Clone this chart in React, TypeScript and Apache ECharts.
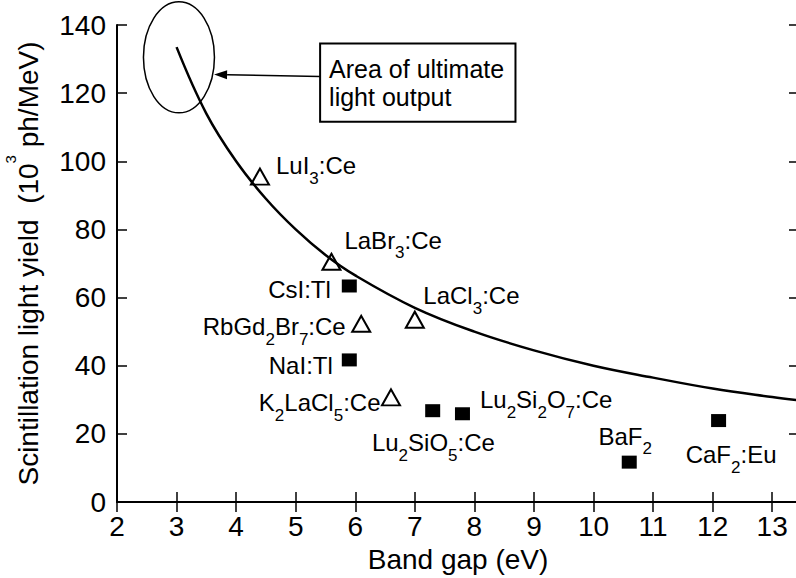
import React, { useEffect, useRef } from "react";
import * as echarts from "echarts";

// ---- data ----
const curveX = [3, 3.5, 4, 4.5, 5, 5.5, 6, 7, 8, 9, 10, 11, 12, 13, 13.45];
const curveY = [133.5, 114, 100, 89, 80, 72.5, 66.5, 57, 50, 44.5, 40, 36.5, 33.3, 30.8, 29.8];

const triNames = ["LuI_3:Ce", "LaBr_3:Ce", "RbGd_2Br_7:Ce", "K_2LaCl_5:Ce", "LaCl_3:Ce"];
const triX = [4.4, 5.6, 6.1, 6.6, 7.0];
const triY = [95.5, 70.5, 52.3, 30.7, 53.5];

const sqNames = ["CsI:Tl", "NaI:Tl", "Lu_2SiO_5:Ce", "Lu_2Si_2O_7:Ce", "BaF_2", "CaF_2:Eu"];
const sqX = [5.9, 5.9, 7.3, 7.8, 10.6, 12.1];
const sqY = [63.4, 41.7, 26.8, 25.9, 11.7, 23.9];

const xTitle = "Band gap (eV)";
const yTitleA = "Scintillation light yield  (10";
const yTitleSup = "3";
const yTitleB = " ph/MeV)";
const noteText = "Area of ultimate\nlight output";

// ---- layout (not data) ----
const triLabelLayout: [string, number, number][] = [
  ["left", 16, -11],
  ["left", 13, -21.5],
  ["right", -15.5, 3],
  ["right", -10.5, 5.5],
  ["left", 8.5, -24],
];
const sqLabelLayout: [string, number, number][] = [
  ["right", -18.5, 3.5],
  ["right", -16.5, 5.5],
  ["center", 0.7, 32],
  ["left", 17.5, -14],
  ["center", -4, -26],
  ["center", 12.5, 34],
];

const FONT = "'Liberation Sans', Arial, Helvetica, sans-serif";

const toRich = (s: string) => {
  const parts: string[] = [];
  let buf = "";
  for (let i = 0; i < s.length; i++) {
    if (s[i] === "_" && i + 1 < s.length) {
      if (buf) parts.push(`{m|${buf}}`);
      buf = "";
      parts.push(`{s|${s[i + 1]}}`);
      i++;
    } else buf += s[i];
  }
  if (buf) parts.push(`{m|${buf}}`);
  return parts.join("");
};

const labelRich = {
  m: { fontSize: 24, lineHeight: 24, verticalAlign: "top", color: "#000", fontFamily: FONT },
  s: { fontSize: 17, lineHeight: 17, verticalAlign: "top", padding: [16, 0, 0, 0], color: "#000", fontFamily: FONT },
};

export default function App() {
  const ref = useRef<HTMLDivElement>(null);
  useEffect(() => {
    document.body.style.margin = "0";
    if (!ref.current) return;
    const chart = echarts.init(ref.current, undefined, { renderer: "svg" });

    const axisLine = { show: true, lineStyle: { color: "#000", width: 2 } };
    const tick = { show: true, inside: true, length: 10, lineStyle: { color: "#000", width: 1.5 } };

    const mkPoints = (names: string[], xs: number[], ys: number[], lay: [string, number, number][]) =>
      names.map((n, i) => ({
        name: n,
        value: [xs[i], ys[i]],
        label: { align: lay[i][0], offset: [lay[i][1], lay[i][2]] },
      }));

    const baseLabel = {
      show: true,
      position: "inside",
      verticalAlign: "middle",
      color: "#000",
      fontFamily: FONT,
      fontSize: 24,
      textBorderWidth: 0,
      formatter: (p: any) => toRich(p.name),
      rich: labelRich,
    };

    chart.setOption({
      animation: false,
      backgroundColor: "#fff",
      grid: { left: 117, right: -3, top: 25, bottom: 76, containLabel: false, outerBoundsMode: "none" },
      xAxis: [
        {
          type: "value",
          position: "bottom",
          min: 2,
          max: 13.45,
          interval: 1,
          axisLine,
          axisTick: tick,
          splitLine: { show: false },
          axisLabel: {
            show: true,
            margin: 10,
            fontSize: 28,
            fontFamily: FONT,
            color: "#000",
            showMaxLabel: false,
            formatter: (v: number) => (Number.isInteger(v) ? String(v) : ""),
          },
          name: xTitle,
          nameLocation: "middle",
          nameGap: 43,
          nameTextStyle: { fontSize: 28, fontFamily: FONT, color: "#000" },
        },
        {
          type: "value",
          position: "top",
          min: 2,
          max: 13.45,
          interval: 1,
          axisLine,
          axisTick: tick,
          splitLine: { show: false },
          axisLabel: { show: false },
        },
      ],
      yAxis: [
        {
          type: "value",
          position: "left",
          min: 0,
          max: 140,
          interval: 20,
          axisLine,
          axisTick: tick,
          splitLine: { show: false },
          axisLabel: { show: true, margin: 11, fontSize: 28, fontFamily: FONT, color: "#000" },
          name: `{a|${yTitleA}}{sup|${yTitleSup}}{a|${yTitleB}}`,
          nameLocation: "middle",
          nameRotate: 90,
          nameGap: 64,
          nameTextStyle: {
            fontSize: 28,
            fontFamily: FONT,
            color: "#000",
            rich: {
              a: { fontSize: 28, lineHeight: 50, fontFamily: FONT, color: "#000" },
              sup: { fontSize: 15, lineHeight: 15, verticalAlign: "top", fontFamily: FONT, color: "#000" },
            },
          },
        },
        {
          type: "value",
          position: "right",
          min: 0,
          max: 140,
          interval: 20,
          axisLine,
          axisTick: tick,
          splitLine: { show: false },
          axisLabel: { show: false },
        },
      ],
      series: [
        {
          type: "line",
          data: curveX.map((x, i) => [x, curveY[i]]),
          smooth: 0.4,
          showSymbol: false,
          symbol: "none",
          lineStyle: { color: "#000", width: 2.5 },
          silent: true,
          z: 2,
        },
        {
          type: "scatter",
          symbol: "triangle",
          symbolSize: [18, 16],
          itemStyle: { color: "rgba(255,255,255,0)", borderColor: "#000", borderWidth: 2, opacity: 1 },
          label: baseLabel,
          data: mkPoints(triNames, triX, triY, triLabelLayout),
          z: 3,
        },
        {
          type: "scatter",
          symbol: "rect",
          symbolSize: [15, 13],
          itemStyle: { color: "#000", opacity: 1 },
          label: baseLabel,
          data: mkPoints(sqNames, sqX, sqY, sqLabelLayout),
          z: 3,
        },
      ],
    });

    // annotation, anchored in data coordinates
    const px = (x: number, y: number) => chart.convertToPixel({ xAxisIndex: 0, yAxisIndex: 0 }, [x, y]) as number[];
    const ellC = px(3.04, 130.5);
    const tip = px(3.63, 125.5);
    const tail = px(5.41, 124.9);
    const b1 = px(5.41, 134.6);
    const b2 = px(8.69, 111.6);
    const dx = tip[0] - tail[0];
    const dy = tip[1] - tail[1];
    const len = Math.hypot(dx, dy);
    const ux = dx / len, uy = dy / len;
    const hl = 13, hw = 4.5;
    const base = [tip[0] - ux * hl, tip[1] - uy * hl];
    chart.setOption({
      graphic: [
        {
          type: "ellipse",
          shape: { cx: ellC[0], cy: ellC[1], rx: 35.5, ry: 55.5 },
          style: { fill: "none", stroke: "#000", lineWidth: 1.5 },
          z: 10,
        },
        {
          type: "line",
          shape: { x1: tail[0], y1: tail[1], x2: base[0], y2: base[1] },
          style: { stroke: "#000", lineWidth: 1.5 },
          z: 10,
        },
        {
          type: "polygon",
          shape: {
            points: [
              [tip[0], tip[1]],
              [base[0] - uy * hw, base[1] + ux * hw],
              [base[0] + uy * hw, base[1] - ux * hw],
            ],
          },
          style: { fill: "#000" },
          z: 10,
        },
        {
          type: "rect",
          shape: { x: b1[0], y: b1[1], width: b2[0] - b1[0], height: b2[1] - b1[1] },
          style: { fill: "#fff", stroke: "#000", lineWidth: 2 },
          z: 10,
        },
        {
          type: "text",
          x: b1[0] + 9,
          y: (b1[1] + b2[1]) / 2,
          style: {
            text: noteText,
            fill: "#000",
            fontSize: 25,
            fontFamily: FONT,
            lineHeight: 28,
            align: "left",
            verticalAlign: "middle",
          },
          z: 11,
        },
      ],
    });

    return () => chart.dispose();
  }, []);
  return (
    <div
      ref={ref}
      style={{ position: "absolute", left: 0, top: 0, width: 796, height: 578, background: "#fff" }}
    />
  );
}
